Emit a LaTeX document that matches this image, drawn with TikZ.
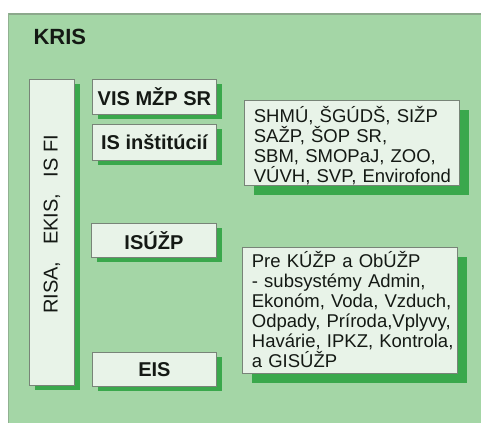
\documentclass[tikz,border=0pt]{standalone}
\usepackage{fontspec}
\setmainfont{Liberation Sans}
\usepackage{graphicx}
\usetikzlibrary{shadows}
\definecolor{bggreen}{RGB}{164,214,166}
\definecolor{boxfill}{RGB}{232,243,232}
\definecolor{shadowgreen}{RGB}{58,168,76}
\definecolor{bordergray}{RGB}{120,132,120}
\definecolor{topline}{RGB}{140,168,140}
\definecolor{txt}{RGB}{20,25,20}
\newcommand{\firststrut}[1]{\rule{0pt}{#1}}
\newcommand{\laststrut}[1]{\rule[-#1]{0pt}{#1}\par}
\newcommand{\indentpad}{\leftskip=8pt\relax\hyphenpenalty=10000\relax}
\tikzset{
  panel/.style={draw=bordergray, line width=0.8pt, fill=boxfill, text=txt, inner sep=0pt, anchor=north west},
  smallbox/.style={panel, drop shadow={shadow xshift=6pt, shadow yshift=-5pt, fill=shadowgreen, opacity=1},
    font=\fontsize{20}{22}\selectfont\bfseries},
  bigbox/.style={panel, drop shadow={shadow xshift=10pt, shadow yshift=-10pt, fill=shadowgreen, opacity=1},
    font=\fontsize{18.5}{20}\selectfont, align=left, text width=212pt, inner xsep=1.5pt, inner ysep=0pt},
}
\begin{document}
\begin{tikzpicture}[x=1pt,y=-1pt]
\useasboundingbox (0,0) rectangle (481,423);
\fill[white] (0,0) rectangle (481,423);
\fill[bggreen] (8,13) rectangle (481,423);
\draw[topline, line width=2pt] (8,14) -- (481,14);
\draw[topline!80!bggreen, line width=1pt] (8.5,13) -- (8.5,423);
\node[anchor=base west, text=txt, font=\fontsize{22}{24}\selectfont\bfseries] (kris) at (30,44) {KRIS};
\node[panel, drop shadow={shadow xshift=6pt, shadow yshift=-5pt, fill=shadowgreen, opacity=1},
  minimum width=45pt, minimum height=306pt, font=\fontsize{20}{22}\selectfont] (left) at (29,79)
  {\rotatebox{90}{\hspace*{16pt}RISA,\hspace{11pt} EKIS,\hspace{11pt} IS FI}};
\node[smallbox, minimum width=124pt, minimum height=35pt] (vis) at (92,79) {VIS MŽP SR};
\node[smallbox, minimum width=124pt, minimum height=36pt] (inst) at (92,124) {IS inštitúcií};
\node[smallbox, minimum width=125pt, minimum height=34pt] (isuzp) at (91,223) {ISÚŽP};
\node[smallbox, minimum width=124pt, minimum height=34pt] (eis) at (92,352) {EIS};
\node[bigbox, minimum height=85pt] (shmu) at (244,100)
  {\indentpad\firststrut{22pt}SHMÚ, ŠGÚDŠ, SIŽP\\SAŽP, ŠOP SR,\\SBM, SMOPaJ, ZOO,\\VÚVH, SVP, Envirofond\laststrut{3pt}};
\node[bigbox, minimum height=126pt] (pre) at (242,247)
  {\indentpad\firststrut{20pt}Pre KÚŽP a ObÚŽP\\- subsystémy Admin,\\Ekonóm, Voda, Vzduch,\\Odpady, Príroda,Vplyvy,\\Havárie, IPKZ, Kontrola,\\a GISÚŽP\laststrut{6pt}};
\end{tikzpicture}
\end{document}
